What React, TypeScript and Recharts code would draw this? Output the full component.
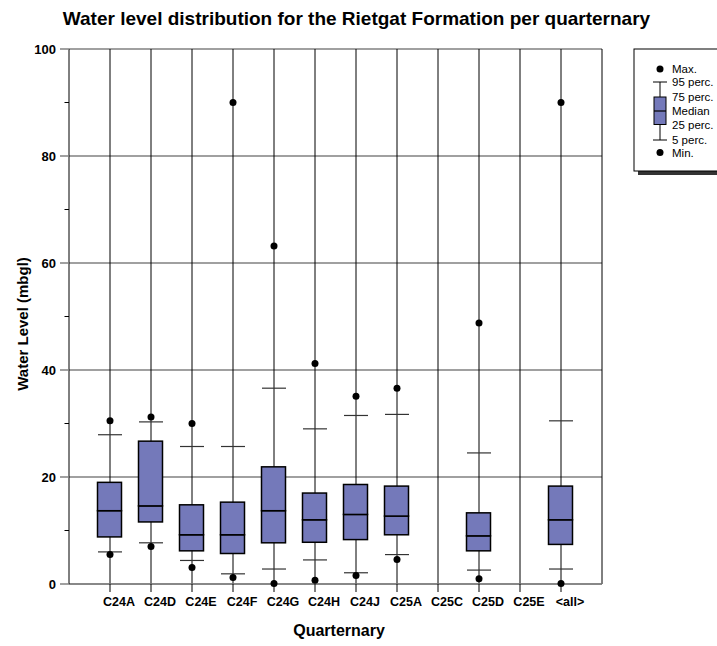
import React from 'react';
import { ComposedChart, Bar, Scatter, XAxis, YAxis, CartesianGrid } from 'recharts';

const categories = ['C24A', 'C24D', 'C24E', 'C24F', 'C24G', 'C24H', 'C24J', 'C25A', 'C25C', 'C25D', 'C25E', '<all>'];
const minVals = [5.5, 7.0, 3.1, 1.2, 0.1, 0.7, 1.6, 4.6, null, 1.0, null, 0.1];
const p5Vals = [6.0, 7.7, 4.4, 1.9, 2.8, 4.5, 2.1, 5.5, null, 2.6, null, 2.8];
const q25Vals = [8.8, 11.6, 6.2, 5.7, 7.7, 7.8, 8.3, 9.2, null, 6.2, null, 7.4];
const medianVals = [13.7, 14.6, 9.2, 9.2, 13.7, 12.0, 13.0, 12.7, null, 9.0, null, 12.0];
const q75Vals = [19.0, 26.7, 14.8, 15.3, 21.9, 17.0, 18.6, 18.3, null, 13.3, null, 18.3];
const p95Vals = [27.9, 30.3, 25.7, 25.7, 36.6, 29.0, 31.5, 31.7, null, 24.5, null, 30.5];
const maxVals = [30.5, 31.2, 30.0, 90.0, 63.2, 41.2, 35.1, 36.6, null, 48.8, null, 90.0];

const yTicks = [0, 10, 20, 30, 40, 50, 60, 70, 80, 90, 100];
const yGrid = [0, 20, 40, 60, 80, 100];
const xTicks = categories.map((_, i) => i + 1);

const data = categories.map((name, i) => {
  const has = medianVals[i] != null;
  return {
    pos: i + 1,
    name,
    min: minVals[i],
    p5: p5Vals[i],
    p95: p95Vals[i],
    max: maxVals[i],
    median: medianVals[i],
    base: has ? q25Vals[i] : null,
    lower: has ? (medianVals[i] as number) - (q25Vals[i] as number) : null,
    upper: has ? (q75Vals[i] as number) - (medianVals[i] as number) : null,
  };
});

const BOX_FILL = '#7479BA';
const FONT = 'Liberation Sans, Arial, sans-serif';

const BoxShape = (props: any) => {
  const { x, y, width, height, payload } = props;
  if (!payload || payload.median == null || height == null || isNaN(height)) return <g />;
  return <rect x={x} y={y} width={width} height={height} fill={BOX_FILL} stroke="#000" strokeWidth={1.5} />;
};

const CapShape = (props: any) => {
  const { cx, cy } = props;
  if (cy == null || isNaN(cy)) return <g />;
  return <line x1={cx - 12} x2={cx + 12} y1={cy} y2={cy} stroke="#333" strokeWidth={1.2} />;
};

const DotShape = (props: any) => {
  const { cx, cy } = props;
  if (cy == null || isNaN(cy)) return <g />;
  return <circle cx={cx} cy={cy} r={3.5} fill="#000" />;
};

const YTick = (props: any) => {
  const { x, y, payload } = props;
  const major = payload.value % 20 === 0;
  if (!major) {
    return <line x1={x - 4.5} x2={x} y1={y} y2={y} stroke="#000" strokeWidth={1} />;
  }
  return (
    <g>
      <line x1={x - 9} x2={x} y1={y} y2={y} stroke="#808080" strokeWidth={1.5} />
      <text x={x - 13} y={y + 4.5} textAnchor="end" fontFamily={FONT} fontWeight="bold" fontSize={13} fill="#000">
        {payload.value}
      </text>
    </g>
  );
};

const XTick = (props: any) => {
  const { x, y, payload } = props;
  return (
    <g>
      <line x1={x} x2={x} y1={y} y2={y + 8} stroke="#000" strokeWidth={1} />
      <text x={x + 9} y={y + 22} textAnchor="middle" fontFamily={FONT} fontWeight="bold" fontSize={12.5} fill="#000">
        {categories[payload.value - 1]}
      </text>
    </g>
  );
};

function LegendBox() {
  const cx = 660;
  const rows: [string, number][] = [
    ['Max.', 69],
    ['95 perc.', 82],
    ['75 perc.', 97],
    ['Median', 111],
    ['25 perc.', 124.5],
    ['5 perc.', 139.5],
    ['Min.', 152.5],
  ];
  return (
    <g>
      <rect x={638} y={171} width={100} height={4} fill="#333" />
      <rect x={634} y={49} width={100} height={122} fill="#fff" stroke="#000" strokeWidth={1} />
      <circle cx={cx} cy={69} r={3.5} fill="#000" />
      <line x1={cx} x2={cx} y1={82} y2={140} stroke="#000" strokeWidth={1} />
      <line x1={cx - 7} x2={cx + 7} y1={82} y2={82} stroke="#000" strokeWidth={1} />
      <line x1={cx - 7} x2={cx + 7} y1={140} y2={140} stroke="#000" strokeWidth={1} />
      <rect x={cx - 6} y={97} width={12} height={27.5} fill={BOX_FILL} stroke="#000" strokeWidth={1} />
      <line x1={cx - 6} x2={cx + 6} y1={111} y2={111} stroke="#000" strokeWidth={1.2} />
      <circle cx={cx} cy={152.5} r={3.5} fill="#000" />
      {rows.map(([t, yy]) => (
        <text key={t} x={672} y={yy + 4} fontFamily={FONT} fontSize={11.5} fill="#000">
          {t}
        </text>
      ))}
    </g>
  );
}

export default function App() {
  return (
    <div style={{ position: 'absolute', left: 0, top: 0, width: 717, height: 646, background: '#fff' }}>
      <ComposedChart width={717} height={646} data={data} margin={{ top: 49, right: 115, bottom: 0, left: 0 }}>
        <CartesianGrid vertical={false} horizontalValues={yGrid} stroke="#808080" strokeWidth={1.5} />
        <CartesianGrid horizontal={false} verticalValues={[...xTicks, 13]} stroke="#000" strokeWidth={1} />
        <XAxis
          type="number"
          dataKey="pos"
          domain={[0, 13]}
          ticks={xTicks}
          interval={0}
          height={62}
          tickLine={false}
          tickSize={0}
          tickMargin={0}
          axisLine={{ stroke: '#808080', strokeWidth: 1.5 }}
          tick={<XTick />}
        />
        <YAxis
          type="number"
          domain={[0, 100]}
          ticks={yTicks}
          interval={0}
          width={69}
          tickLine={false}
          tickSize={0}
          tickMargin={0}
          axisLine={{ stroke: '#000', strokeWidth: 1 }}
          tick={<YTick />}
        />
        <Bar dataKey="base" stackId="box" barSize={24} fill="transparent" fillOpacity={0} isAnimationActive={false} />
        <Bar dataKey="lower" stackId="box" barSize={24} shape={<BoxShape />} isAnimationActive={false} />
        <Bar dataKey="upper" stackId="box" barSize={24} shape={<BoxShape />} isAnimationActive={false} />
        <Scatter dataKey="p5" shape={<CapShape />} isAnimationActive={false} />
        <Scatter dataKey="p95" shape={<CapShape />} isAnimationActive={false} />
        <Scatter dataKey="min" shape={<DotShape />} isAnimationActive={false} />
        <Scatter dataKey="max" shape={<DotShape />} isAnimationActive={false} />
      </ComposedChart>
      <svg width={717} height={646} style={{ position: 'absolute', left: 0, top: 0, pointerEvents: 'none' }}>
        <text x={356.5} y={25} textAnchor="middle" fontFamily={FONT} fontWeight="bold" fontSize={19} fill="#000">
          Water level distribution for the Rietgat Formation per quarternary
        </text>
        <text x={339} y={636} textAnchor="middle" fontFamily={FONT} fontWeight="bold" fontSize={16} fill="#000">
          Quarternary
        </text>
        <text
          x={28}
          y={324}
          textAnchor="middle"
          transform="rotate(-90, 28, 324)"
          fontFamily={FONT}
          fontWeight="bold"
          fontSize={15}
          fill="#000"
        >
          Water Level (mbgl)
        </text>
        <LegendBox />
      </svg>
    </div>
  );
}
